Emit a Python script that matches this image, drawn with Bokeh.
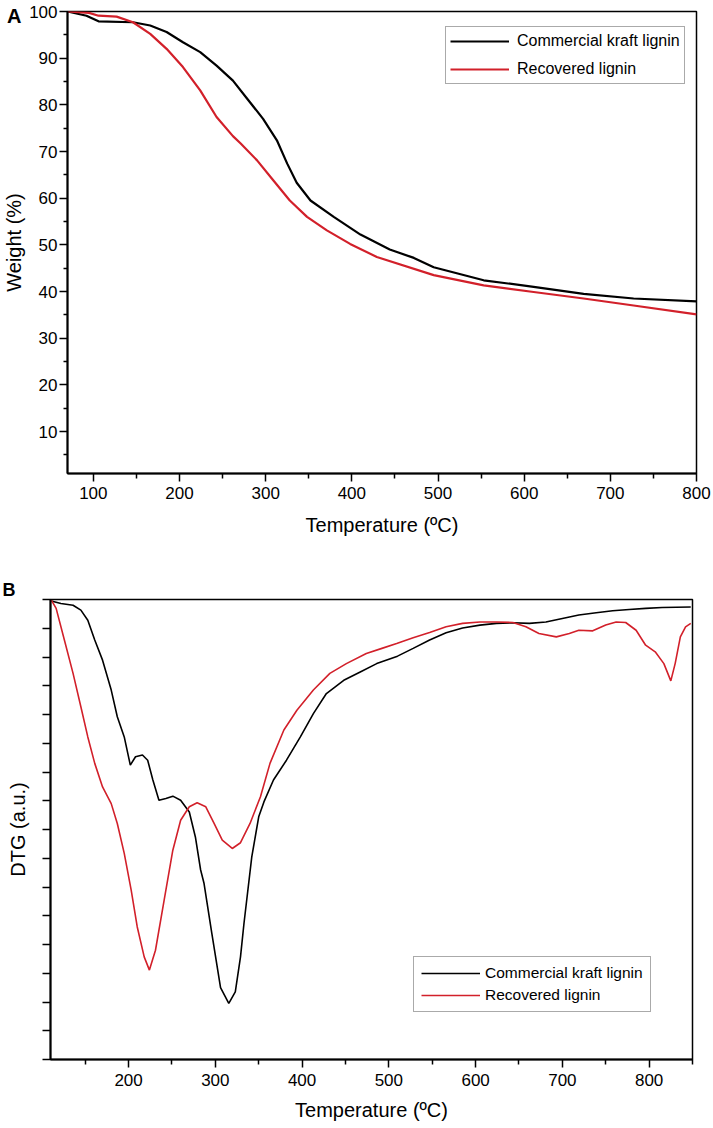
from bokeh.plotting import figure
from bokeh.models import Range1d, FixedTicker, Legend, LegendItem, Div
from bokeh.embed import file_html
from bokeh.resources import INLINE

# ---------------- data ----------------
# Panel A: TGA weight (%) vs temperature (ºC)
tga_temp_commercial = [70, 92, 106, 146, 166, 185, 204, 224, 243, 262, 279, 297, 313, 325, 336, 352,
                       379, 410, 444, 472, 495, 553, 611, 669, 727, 800]
tga_weight_commercial = [100, 99.1, 97.9, 97.7, 97.0, 95.6, 93.4, 91.3, 88.4, 85.2, 81.2, 77.0, 72.4,
                         67.4, 63.3, 59.5, 56.0, 52.2, 49.0, 47.2, 45.2, 42.4, 41.0, 39.5, 38.5, 37.9]
tga_temp_recovered = [70, 95, 106, 127, 146, 166, 185, 204, 224, 243, 262, 271, 290, 309, 328, 348,
                      371, 398, 429, 495, 553, 611, 669, 727, 800]
tga_weight_recovered = [100, 99.7, 99.1, 98.9, 97.7, 95.2, 92.0, 88.1, 83.1, 77.4, 73.3, 71.7, 68.1,
                        63.8, 59.5, 56.0, 53.1, 50.2, 47.4, 43.5, 41.3, 39.9, 38.5, 37.0, 35.1]

# Panel B: DTG (arbitrary units, 0 = top of frame) vs temperature (ºC)
dtg_temp_commercial = [111, 122, 136, 145, 153, 161, 170, 180, 187, 195, 202, 208, 216, 222, 228, 235,
                       243, 251, 260, 270, 277, 283, 287, 296, 306, 315.5, 323, 329, 333, 342, 350,
                       356, 367, 382, 398, 413, 428, 448, 467, 486, 510, 528, 547, 566, 585, 605,
                       624, 643, 662, 681, 700, 719, 739, 758, 777, 796, 815, 848]
dtg_commercial = [-0.05, -0.14, -0.2, -0.37, -0.72, -1.41, -2.11, -3.15, -4.08, -4.78, -5.76, -5.47,
                  -5.41, -5.59, -6.28, -6.98, -6.92, -6.84, -6.98, -7.39, -8.26, -9.4, -9.88, -11.62,
                  -13.5, -14.05, -13.65, -12.43, -11.27, -8.95, -7.56, -7.04, -6.28, -5.59, -4.78,
                  -3.97, -3.27, -2.81, -2.52, -2.23, -1.97, -1.70, -1.41, -1.16, -0.99, -0.89,
                  -0.83, -0.81, -0.83, -0.78, -0.66, -0.54, -0.46, -0.39, -0.35, -0.31, -0.28, -0.26]
dtg_temp_recovered = [111, 116.5, 126, 136, 145, 153, 161, 170, 180, 187, 195, 203, 210, 218, 224, 231,
                      241, 251, 260, 270, 279, 289, 298, 308, 319.5, 329, 340, 352, 363, 379, 394,
                      413, 432, 451, 474, 492, 509, 528, 547, 566, 585, 605, 624, 643, 658, 673,
                      693, 708, 719, 735, 750, 762, 773, 785, 796, 807, 817, 825, 830, 836, 842, 848]
dtg_recovered = [-0.02, -0.31, -1.41, -2.57, -3.73, -4.78, -5.70, -6.52, -7.10, -7.79, -8.83, -10.11,
                 -11.39, -12.43, -12.89, -12.2, -10.46, -8.72, -7.68, -7.21, -7.07, -7.21, -7.75,
                 -8.37, -8.66, -8.46, -7.79, -6.86, -5.70, -4.54, -3.85, -3.15, -2.57, -2.23, -1.88,
                 -1.70, -1.53, -1.33, -1.15, -0.95, -0.83, -0.78, -0.78, -0.80, -0.95, -1.18, -1.30,
                 -1.18, -1.07, -1.09, -0.89, -0.78, -0.80, -1.07, -1.59, -1.82, -2.23, -2.83, -2.23,
                 -1.30, -0.95, -0.83]

series_names = ["Commercial kraft lignin", "Recovered lignin"]
panel_letters = ["A", "B"]
tga_x_ticks = [100, 200, 300, 400, 500, 600, 700, 800]
tga_x_minor = [150, 250, 350, 450, 550, 650, 750]
tga_y_ticks = [10, 20, 30, 40, 50, 60, 70, 80, 90, 100]
tga_y_minor = [5, 15, 25, 35, 45, 55, 65, 75, 85, 95]
dtg_x_ticks = [200, 300, 400, 500, 600, 700, 800]
dtg_x_minor = [150, 250, 350, 450, 550, 650, 750, 850]
dtg_y_minor = [0, -1, -2, -3, -4, -5, -6, -7, -8, -9, -10, -11, -12, -13, -14, -15, -16]

FONT = "Liberation Sans"
BLACK = "#000000"
RED = "#d2202a"


def style_axes(p):
    p.xgrid.visible = False
    p.ygrid.visible = False
    p.outline_line_color = "black"
    p.outline_line_width = 1.5
    p.outline_line_alpha = 1
    p.background_fill_color = "white"
    p.border_fill_color = "white"
    for ax in (p.xaxis[0], p.yaxis[0]):
        ax.axis_line_width = 2
        ax.axis_line_color = "black"
        ax.major_tick_line_width = 1.5
        ax.minor_tick_line_width = 1.5
        ax.major_tick_line_color = "black"
        ax.minor_tick_line_color = "black"
        ax.major_tick_in = 0
        ax.minor_tick_in = 0
        ax.major_tick_out = 8
        ax.major_label_text_font = FONT
        ax.major_label_text_font_size = "17px"
        ax.major_label_text_color = "black"
        ax.axis_label_text_font = FONT
        ax.axis_label_text_font_size = "20px"
        ax.axis_label_text_font_style = "normal"
        ax.axis_label_text_color = "black"


# ---------------- Panel A ----------------
p1 = figure(width=713, height=568, x_range=Range1d(70, 800), y_range=Range1d(1, 100),
            output_backend="svg", toolbar_location=None,
            min_border_left=66, min_border_right=17, min_border_top=11, min_border_bottom=95)
style_axes(p1)
p1.xaxis.ticker = FixedTicker(ticks=tga_x_ticks, minor_ticks=tga_x_minor)
p1.yaxis.ticker = FixedTicker(ticks=tga_y_ticks, minor_ticks=tga_y_minor)
p1.xaxis.minor_tick_out = 5
p1.yaxis.minor_tick_out = 4
p1.xaxis.major_label_standoff = 5
p1.xaxis.axis_label_standoff = 12
p1.yaxis.major_label_standoff = 2
p1.yaxis.axis_label_standoff = 1
p1.xaxis.axis_label = "Temperature (ºC)"
p1.yaxis.axis_label = "Weight (%)"

r1a = p1.line(tga_temp_commercial, tga_weight_commercial, line_color=BLACK, line_width=2.2)
r1b = p1.line(tga_temp_recovered, tga_weight_recovered, line_color=RED, line_width=2.2)

leg1 = Legend(items=[LegendItem(label=series_names[0], renderers=[r1a]),
                     LegendItem(label=series_names[1], renderers=[r1b])],
              location=(378, 389), padding=4, spacing=8, margin=0,
              glyph_width=59, glyph_height=20, label_height=20, label_standoff=8,
              label_text_font=FONT, label_text_font_size="16px", label_text_color="black",
              border_line_color="#555555", border_line_width=1,
              background_fill_color="white", background_fill_alpha=1)
p1.add_layout(leg1, "center")

# ---------------- Panel B ----------------
p2 = figure(width=713, height=558, x_range=Range1d(110, 850), y_range=Range1d(-16, 0),
            output_backend="svg", toolbar_location=None,
            min_border_left=50, min_border_right=21, min_border_top=31, min_border_bottom=67)
style_axes(p2)
p2.xaxis.ticker = FixedTicker(ticks=dtg_x_ticks, minor_ticks=dtg_x_minor)
p2.yaxis.ticker = FixedTicker(ticks=[], minor_ticks=dtg_y_minor)
p2.xaxis.minor_tick_out = 5
p2.yaxis.minor_tick_out = 8
p2.xaxis.major_label_standoff = 6
p2.xaxis.axis_label_standoff = 10
p2.yaxis.major_label_standoff = 0
p2.yaxis.axis_label_standoff = 14
p2.xaxis.axis_label = "Temperature (ºC)"
p2.yaxis.axis_label = "DTG (a.u.)"

p2.title.text = panel_letters[1]
p2.title.align = "left"
p2.title.offset = -48
p2.title.standoff = 0
p2.title.text_font = FONT
p2.title.text_font_size = "18px"
p2.title.text_font_style = "bold"
p2.title.text_color = "black"

r2a = p2.line(dtg_temp_commercial, dtg_commercial, line_color=BLACK, line_width=1.6)
r2b = p2.line(dtg_temp_recovered, dtg_recovered, line_color=RED, line_width=1.6)

leg2 = Legend(items=[LegendItem(label=series_names[0], renderers=[r2a]),
                     LegendItem(label=series_names[1], renderers=[r2b])],
              location=(363, 47), padding=7, spacing=4, margin=0,
              glyph_width=59, glyph_height=18, label_height=18, label_standoff=5,
              label_text_font=FONT, label_text_font_size="15.5px", label_text_color="black",
              border_line_color="#555555", border_line_width=1,
              background_fill_color="white", background_fill_alpha=1)
p2.add_layout(leg2, "center")

# Panel letter "A" sits beside the "100" tick label, outside the top plot frame
div_a = Div(text=panel_letters[0], width=22, height=24,
            styles={"position": "absolute", "left": "2px", "top": "0px", "z-index": "10",
                    "font-family": FONT, "font-size": "20px", "font-weight": "bold",
                    "color": "black", "line-height": "22px"})

open("out.html", "w").write(file_html([p1, p2, div_a], INLINE))
